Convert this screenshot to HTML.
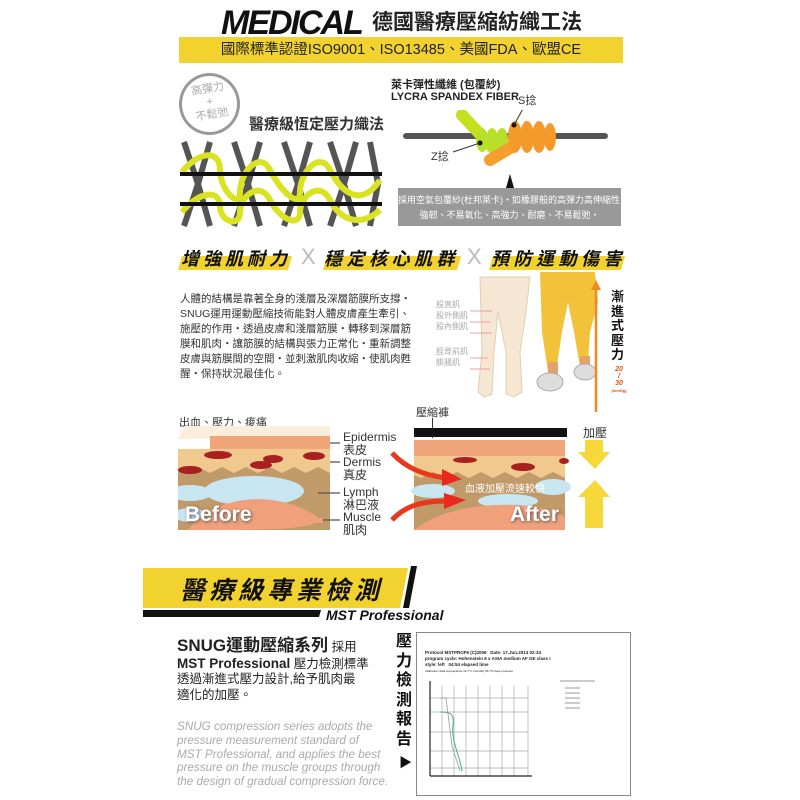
<!DOCTYPE html>
<html><head><meta charset="utf-8"><style>
*{margin:0;padding:0;box-sizing:border-box}
body{width:800px;height:800px;background:#fff;position:relative;overflow:hidden;font-family:"Liberation Sans","Noto Sans CJK TC",sans-serif;color:#222}
.a{position:absolute;white-space:nowrap}
.cj{font-family:"Liberation Sans","Noto Sans CJK TC",sans-serif}
</style></head><body>

<div class="a" style="left:221px;top:6px;font-size:34px;font-weight:bold;font-style:italic;letter-spacing:-2px;color:#111;line-height:34px">MEDICAL</div>
<div class="a cj" style="left:372px;top:10px;font-size:21px;font-weight:bold;color:#222;line-height:26px">德國醫療壓縮紡織工法</div>
<div class="a" style="left:179px;top:37px;width:444px;height:26px;background:#f2d22e"></div>
<div class="a cj" style="left:179px;top:37px;width:444px;text-align:center;font-size:14.5px;line-height:26px;color:#222">國際標準認證ISO9001、ISO13485、美國FDA、歐盟CE</div>

<div class="a" style="left:179px;top:73px;width:61px;height:62px;border:3px solid #999;border-radius:50%"></div>
<div class="a cj" style="left:186px;top:83px;width:48px;text-align:center;font-size:11px;line-height:13px;color:#aaa;white-space:normal;transform:rotate(-10deg)">高彈力<br>+<br>不鬆弛</div>
<div class="a cj" style="left:249px;top:113px;font-size:15px;font-weight:bold;color:#333">醫療級恆定壓力織法</div>

<svg class="a" style="left:180px;top:140px" width="202" height="88" viewBox="0 0 202 88">
<g fill="none" stroke="#555" stroke-width="6">
<path d="M4 2 L18 44 L4 86 M30 2 L18 44 L30 86"/>
<path d="M54 2 L68 44 L54 86 M80 2 L68 44 L80 86"/>
<path d="M104 2 L118 44 L104 86 M130 2 L118 44 L130 86"/>
<path d="M150 2 L164 44 L150 86 M176 2 L164 44 L176 86"/>
<path d="M190 2 L198 44 L190 86"/>
</g>
<g fill="none" stroke="#d9e321" stroke-width="6">
<path d="M2 32 C20 10 40 10 40 30 C40 50 60 70 60 52 C60 32 80 10 90 30 C100 50 120 70 120 52 C120 32 140 10 150 30 C160 50 180 70 200 40"/>
<path d="M2 72 C20 50 40 50 40 66 C40 82 60 88 60 72 C60 56 80 40 90 60 C100 80 120 88 120 72 C120 56 140 40 150 60 C160 80 180 88 200 70"/>
</g>
<rect x="0" y="32" width="202" height="4" fill="#111"/>
<rect x="0" y="62" width="202" height="4" fill="#111"/>
</svg>

<div class="a cj" style="left:391px;top:76px;font-size:11px;font-weight:bold;color:#222">萊卡彈性纖維 (包覆紗)</div>
<div class="a" style="left:391px;top:91px;font-size:11px;font-weight:bold;color:#222">LYCRA SPANDEX FIBER</div>
<div class="a cj" style="left:518px;top:92px;font-size:11px;color:#333">S捻</div>
<div class="a cj" style="left:431px;top:148px;font-size:11px;color:#333">Z捻</div>
<svg class="a" style="left:400px;top:110px" width="230" height="80" viewBox="0 0 230 80">
<rect x="3" y="23" width="205" height="6" rx="3" fill="#555"/>
<path d="M62 5 L95 40" stroke="#c5e020" stroke-width="12" stroke-linecap="round"/>
<g fill="#b8e02a"><ellipse cx="82" cy="30" rx="6" ry="12"/><ellipse cx="92" cy="30" rx="6" ry="12"/><ellipse cx="102" cy="30" rx="6" ry="12"/></g>
<path d="M90 50 L115 35" stroke="#f3a030" stroke-width="12" stroke-linecap="round"/>
<g fill="#f39a2a"><ellipse cx="115" cy="27" rx="7" ry="16"/><ellipse cx="127" cy="27" rx="7" ry="16"/><ellipse cx="139" cy="27" rx="7" ry="16"/><ellipse cx="150" cy="27" rx="6" ry="14"/></g>
<circle cx="80" cy="33" r="2.5" fill="#111"/><circle cx="114" cy="15" r="2.5" fill="#111"/>
<path d="M53 42 L80 33 M114 15 L125 -5" stroke="#333" stroke-width="1"/>
<path d="M106 78 L110 64 L114 78 Z" fill="#111"/>
</svg>
<div class="a" style="left:398px;top:188px;width:223px;height:38px;background:#999"></div>
<div class="a cj" style="left:398px;top:193px;width:223px;text-align:center;font-size:9px;line-height:15px;color:#fff">採用空氣包覆紗(杜邦萊卡)・如橡膠般的高彈力高伸縮性・<br>強韌、不易氧化、高強力、耐磨、不易鬆弛・</div>

<svg class="a" style="left:175px;top:243px" width="455" height="28" viewBox="0 0 455 28">
<polygon points="7,13 117,13 113,27 3,27" fill="#f2d22e"/>
<polygon points="152,13 286,13 282,27 148,27" fill="#f2d22e"/>
<polygon points="318,13 450,13 446,27 314,27" fill="#f2d22e"/>
</svg>
<div class="a cj" style="left:181px;top:245px;font-size:18px;font-weight:bold;font-style:italic;letter-spacing:4px;color:#111">增強肌耐力</div>
<div class="a" style="left:301px;top:244px;font-size:22px;color:#bbb">X</div>
<div class="a cj" style="left:324px;top:245px;font-size:18px;font-weight:bold;font-style:italic;letter-spacing:4.5px;color:#111">穩定核心肌群</div>
<div class="a" style="left:467px;top:244px;font-size:22px;color:#bbb">X</div>
<div class="a cj" style="left:491px;top:245px;font-size:18px;font-weight:bold;font-style:italic;letter-spacing:4.5px;color:#111">預防運動傷害</div>

<div class="a cj" style="left:180px;top:292px;font-size:10.5px;line-height:15px;color:#333">人體的結構是靠著全身的淺層及深層筋膜所支撐・<br>SNUG運用運動壓縮技術能對人體皮膚產生牽引、<br>施壓的作用・透過皮膚和淺層筋膜・轉移到深層筋<br>膜和肌肉・讓筋膜的結構與張力正常化・重新調整<br>皮膚與筋膜間的空間・並刺激肌肉收縮・使肌肉甦<br>醒・保持狀況最佳化。</div>

<svg class="a" style="left:470px;top:272px" width="170" height="145" viewBox="0 0 170 145">
<g fill="#f6e6d4" stroke="#e6cdb0" stroke-width="1">
<path d="M10 5 L60 5 L56 40 L50 80 L52 120 L44 125 L36 122 L36 80 L28 40 L24 80 L22 122 L14 125 L8 120 L12 80 Z"/>
</g>
<g fill="#f2c23a"><path d="M70 0 L125 0 L128 30 L120 60 L118 90 L110 95 L104 60 L98 30 L92 60 L86 100 L78 100 L72 60 Z"/></g>
<g fill="#e6a070"><rect x="78" y="90" width="10" height="14"/><rect x="110" y="84" width="10" height="14"/></g>
<g fill="#ddd" stroke="#aaa"><ellipse cx="80" cy="110" rx="13" ry="9"/><ellipse cx="115" cy="100" rx="11" ry="8"/></g>
<g stroke="#e8a0a0" stroke-width="1"><path d="M0 39 L22 39 M0 50 L20 50 M0 61 L22 61 M0 86 L18 86 M0 97 L20 97"/></g>
<path d="M126 140 L126 14" stroke="#f08a20" stroke-width="2.5"/>
<path d="M121 18 L126 8 L131 18 Z" fill="#f08a20"/>
</svg>
<div class="a cj" style="left:436px;top:299px;font-size:8px;line-height:11px;color:#aaa">股直肌<br>股外側肌<br>股內側肌</div>
<div class="a cj" style="left:436px;top:346px;font-size:8px;line-height:11px;color:#aaa">脛骨前肌<br>腓腸肌</div>
<div class="a cj" style="left:611px;top:290px;width:18px;font-size:13px;font-weight:bold;line-height:14.5px;white-space:normal;color:#111">漸進式壓力</div>
<div class="a" style="left:608px;top:366px;width:22px;text-align:center;font-size:7px;font-weight:bold;font-style:italic;line-height:7px;color:#e05010;white-space:normal">20<br>/<br>30<br><span style="font-size:4px">(mmHg)</span></div>

<div class="a cj" style="left:179px;top:414px;font-size:11px;color:#333">出血、壓力、痠痛</div>
<div class="a cj" style="left:416px;top:404px;font-size:11px;color:#333">壓縮褲</div>
<div class="a" style="left:432px;top:418px;width:1px;height:20px;background:#333"></div>

<svg class="a" style="left:178px;top:423px" width="460" height="110" viewBox="0 0 460 110">
<polygon points="0,16 6,3 152,3 152,16" fill="#fbeedd"/>
<rect x="32" y="13" width="120" height="13" fill="#f0a57a"/>
<rect x="0" y="26" width="152" height="81" fill="#c09a68"/>
<path d="M0 26 H152 V50 L140 44 L128 50 L116 44 L104 50 L92 44 L80 50 L68 44 L56 50 L44 44 L32 50 L20 44 L8 50 L0 46 Z" fill="#f1c98e"/>
<g fill="#a82020"><ellipse cx="40" cy="32" rx="14" ry="4"/><ellipse cx="12" cy="47" rx="12" ry="4"/><ellipse cx="95" cy="36" rx="10" ry="4"/><ellipse cx="83" cy="42" rx="11" ry="4"/><ellipse cx="136" cy="33" rx="11" ry="4"/></g>
<ellipse cx="76" cy="68" rx="50" ry="15" fill="#c8e6f2"/>
<ellipse cx="12" cy="70" rx="22" ry="8" fill="#c8e6f2"/>
<ellipse cx="12" cy="92" rx="16" ry="7" fill="#c8e6f2"/>
<path d="M10 107 C30 80 70 72 100 78 C120 82 135 90 140 95 L145 95 L145 100 L138 100 C120 107 80 107 10 107 Z" fill="#f0a17c"/>
<g stroke="#555" stroke-width="1.2"><path d="M152 20 H162 M152 39 H162 M140 70 H162 M145 97 H162"/></g>

<rect x="236" y="5" width="153" height="9" fill="#111"/>
<rect x="236" y="17" width="151" height="16" fill="#f0a57a"/>
<rect x="236" y="33" width="151" height="74" fill="#c09a68"/>
<path d="M236 33 H387 V55 L375 49 L363 55 L351 49 L339 55 L327 49 L315 55 L303 49 L291 55 L279 49 L267 55 L255 49 L243 55 L236 52 Z" fill="#f1c98e"/>
<g fill="#a82020"><ellipse cx="287" cy="37" rx="12" ry="3"/><ellipse cx="345" cy="44" rx="12" ry="4"/><ellipse cx="386" cy="38" rx="5" ry="3"/></g>
<ellipse cx="255" cy="68" rx="22" ry="7" fill="#c8e6f2"/>
<ellipse cx="375" cy="64" rx="18" ry="8" fill="#c8e6f2"/>
<ellipse cx="330" cy="78" rx="30" ry="7" fill="#c8e6f2"/>
<path d="M236 107 C260 88 300 80 340 82 C370 84 387 92 387 95 V107 Z" fill="#f0a17c"/>
<g fill="none" stroke="#e8381e" stroke-width="5"><path d="M214 30 C228 45 245 52 268 55"/><path d="M214 97 C228 82 245 78 270 78"/></g>
<polygon points="264,46 284,56 264,63" fill="#e82a1e"/>
<polygon points="266,70 288,77 266,86" fill="#e82a1e"/>
<polygon points="407,17 407,29 400,29 417,46 432,29 425,29 425,17" fill="#f6d83a"/>
<polygon points="417,57 400,74 407,74 407,105 425,105 425,74 432,74" fill="#f6d83a"/>
</svg>
<div class="a" style="left:343px;top:431px;font-size:12px;line-height:12.5px;color:#333">Epidermis<br><span style="font-family:'Noto Sans CJK TC'">表皮</span><br>Dermis<br><span style="font-family:'Noto Sans CJK TC'">真皮</span></div>
<div class="a" style="left:343px;top:486px;font-size:12px;line-height:12.5px;color:#333">Lymph<br><span style="font-family:'Noto Sans CJK TC'">淋巴液</span><br>Muscle<br><span style="font-family:'Noto Sans CJK TC'">肌肉</span></div>
<div class="a cj" style="left:583px;top:424px;font-size:12px;color:#333">加壓</div>
<div class="a cj" style="left:465px;top:480px;font-size:10px;color:#fff">血液加壓流速較快</div>
<div class="a" style="left:185px;top:503px;font-size:21px;font-weight:bold;color:#fff;text-shadow:1px 1px 3px #555">Before</div>
<div class="a" style="left:510px;top:503px;font-size:21px;font-weight:bold;color:#fff;text-shadow:1px 1px 3px #555">After</div>

<svg class="a" style="left:143px;top:566px" width="300" height="54" viewBox="0 0 300 54">
<polygon points="0,2 265,2 257,42 0,42" fill="#f2d22e"/>
<polygon points="268,0 274,0 266,42 260,42" fill="#111"/>
<polygon points="0,44 178,44 176,51 0,51" fill="#111"/>
</svg>
<div class="a cj" style="left:180px;top:571px;font-size:25px;font-weight:bold;font-style:italic;letter-spacing:4px;color:#111">醫療級專業檢測</div>
<div class="a" style="left:326px;top:607px;font-size:14px;font-weight:bold;font-style:italic;color:#111">MST Professional</div>

<div class="a cj" style="left:177px;top:638px;font-size:12.5px;line-height:15.5px;color:#222"><b style="font-size:17px">SNUG運動壓縮系列</b> 採用<br><b style="font-size:13.5px">MST Professional</b> 壓力檢測標準<br>透過漸進式壓力設計,給予肌肉最<br>適化的加壓。</div>
<div class="a" style="left:177px;top:720px;font-size:11.7px;font-style:italic;line-height:13.8px;color:#aaa">SNUG compression series adopts the<br>pressure measurement standard of<br>MST Professional, and applies the best<br>pressure on the muscle groups through<br>the design of gradual compression force.</div>

<div class="a cj" style="left:396px;top:632px;width:18px;font-size:16px;font-weight:bold;line-height:19.5px;white-space:normal;color:#111">壓力檢測報告</div>
<div class="a" style="left:399px;top:752px;font-size:13px;color:#111">▶</div>

<div class="a" style="left:416px;top:632px;width:215px;height:164px;border:1px solid #888;background:#fff"></div>
<div class="a" style="left:425px;top:650px;font-size:4.5px;line-height:6px;font-weight:bold;color:#222">Protocol MSTPROF6 (C)2006 &nbsp; Date: 17.Jun.2014 02:34<br>program cycle: Hohenstein 6 x ASIA medium AF GE class I<br>style: left &nbsp; 04:54 elapsed time<br><span style="font-weight:normal;font-size:3px">calibration data temperature 22.7°C humidity 56.7% bare pressure</span></div>
<svg class="a" style="left:420px;top:676px" width="210" height="115" viewBox="0 0 210 115">
<g stroke="#aaa" stroke-width="0.7">
<path d="M10 10 V100 M22 10 V100 M34 10 V100 M46 10 V100 M58 10 V100 M70 10 V100 M82 10 V100 M94 10 V100 M108 10 V100"/>
<path d="M10 22 H108 M10 56 H108 M10 92 H108 M10 75 H108 M10 36 H108"/>
</g>
<path d="M10 100 H112 M10 100 V5" stroke="#222" stroke-width="1.2"/>
<path d="M20 36 C28 36 35 36 33 50 C31 65 40 80 42 95" fill="none" stroke="#4a8" stroke-width="1"/>
<path d="M20 22 L26 22 L32 70 L40 95" fill="none" stroke="#999" stroke-width="0.8"/>
<path d="M140 5 H175 M145 12 H160 M145 17 H160 M145 22 H160 M145 27 H160 M145 32 H160" stroke="#999" stroke-width="1"/>
</svg>

</body></html>
